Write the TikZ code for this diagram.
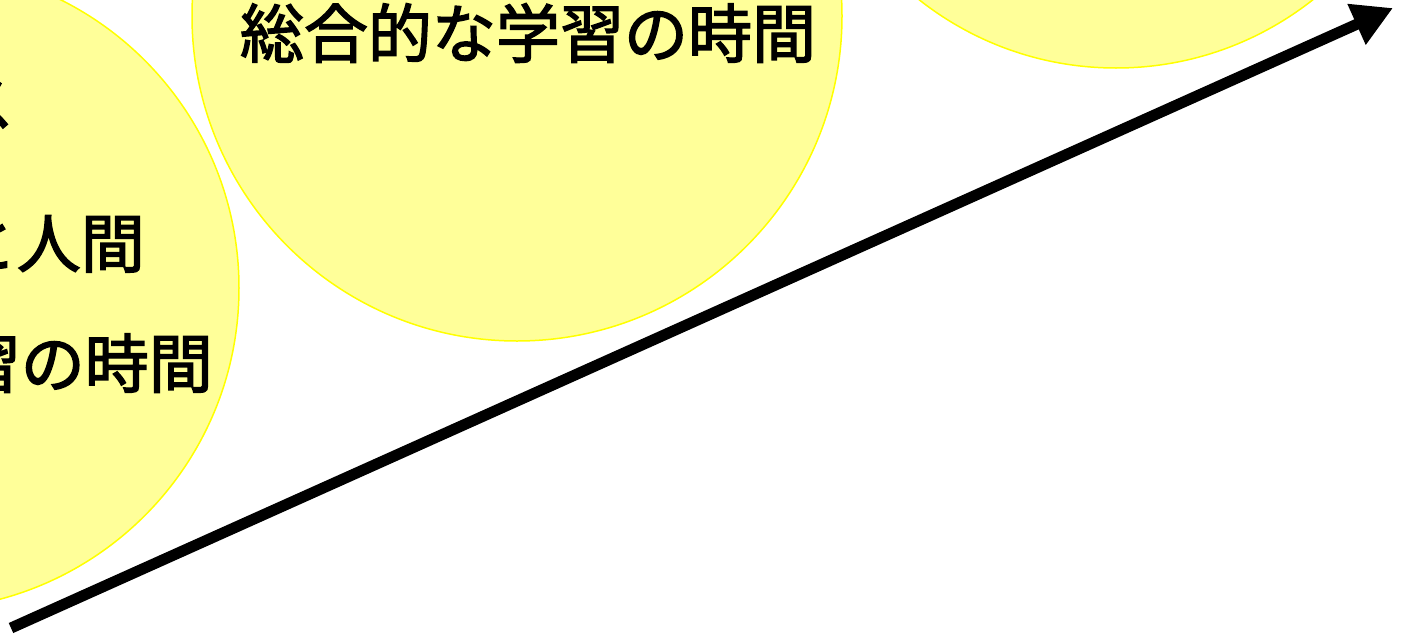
\documentclass[tikz,border=0pt]{standalone}
\usepackage{fontspec}
\newfontfamily\cjk{Noto Sans CJK JP}[FakeBold=2.2]
\usetikzlibrary{arrows.meta}
\definecolor{cfill}{HTML}{FFFF99}
\definecolor{cline}{HTML}{FFFF00}
\tikzset{
  bubble/.style={circle, fill=cfill, draw=cline, line width=1.5pt, inner sep=0pt},
  lbl/.style={font=\cjk\fontsize{64}{70}\selectfont, inner sep=0pt, text=black},
  bigarrow/.style={line width=11pt, -{Triangle[length=40pt,width=42pt]}}
}
\begin{document}
\begin{tikzpicture}[x=1pt,y=-1pt]
\useasboundingbox (0,0) rectangle (1414,635);
\clip (0,0) rectangle (1414,635);
\node[bubble, minimum size=644pt] (c1) at (-83,288) {};
\node[bubble, minimum size=650pt] (c2) at (517,16) {};
\node[bubble, minimum size=636pt] (c3) at (1116,-250) {};
\node[lbl, anchor=east] (t1) at (14,102) {クラス};
\node[lbl, anchor=east] (t2) at (145,243) {地域社会と人間};
\node[lbl, anchor=east] (t3) at (213,363) {総合的な学習の時間};
\node[lbl] (t4) at (528,33) {総合的な学習の時間};
\coordinate (s) at (11,628);
\coordinate (e) at (1393,8);
\draw[bigarrow] (s) -- (e);
\end{tikzpicture}
\end{document}
